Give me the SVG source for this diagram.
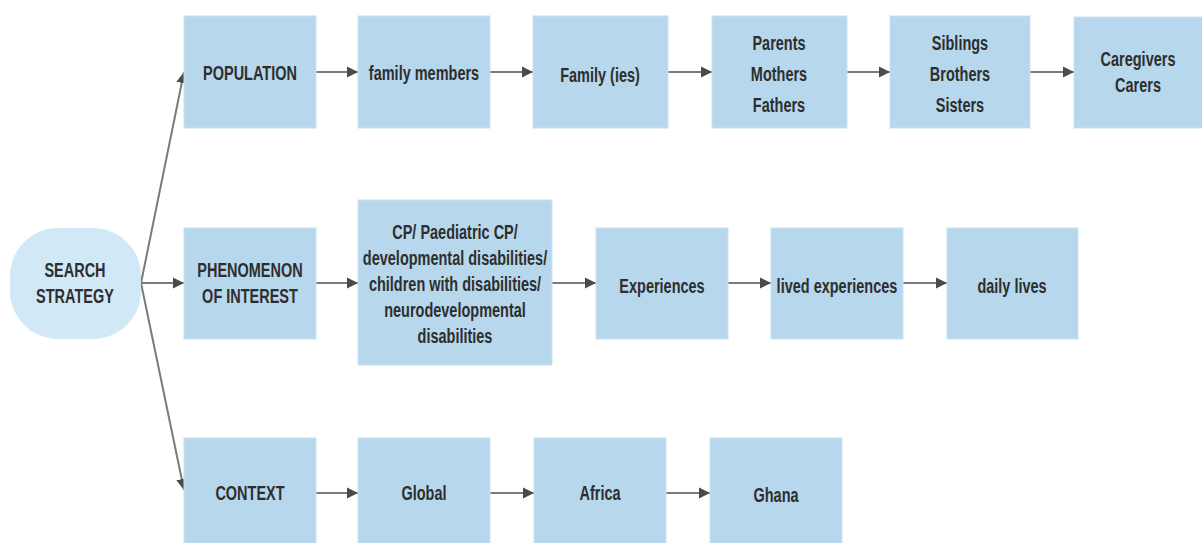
<svg xmlns="http://www.w3.org/2000/svg" width="1202" height="543" viewBox="0 0 1202 543">
<style>
.box{fill:#b6d7ec;stroke:#c9e2f1;stroke-width:1}
.pill{fill:#d1e8f6}
.t{font-family:"Liberation Sans","Arial",sans-serif;font-weight:bold;font-size:21px;fill:#2e2e2e;text-anchor:middle;dominant-baseline:central}
.c{stroke:#7a7a7a;stroke-width:2;fill:none;marker-end:url(#ah)}
</style>
<defs>
<marker id="ah" viewBox="0 0 10 10" refX="10" refY="5" markerWidth="5.5" markerHeight="6" orient="auto" markerUnits="strokeWidth">
<path d="M0,0 L10,5 L0,10 z" fill="#4a4a4a"/>
</marker>
</defs>
<rect width="1202" height="543" fill="#fff"/>
<g id="connectors">
<path class="c" d="M141,283 L184,72"/>
<path class="c" d="M141,283 L184,283"/>
<path class="c" d="M141,283 L184,490"/>
<path class="c" d="M316,72 L358,72"/>
<path class="c" d="M490,72 L533,72"/>
<path class="c" d="M668,72 L712,72"/>
<path class="c" d="M847,72 L890,72"/>
<path class="c" d="M1030,72 L1074,72"/>
<path class="c" d="M316,283 L358,283"/>
<path class="c" d="M552,283 L596,283"/>
<path class="c" d="M728,283 L771,283"/>
<path class="c" d="M903,283 L947,283"/>
<path class="c" d="M316,493 L358,493"/>
<path class="c" d="M490,493 L534,493"/>
<path class="c" d="M666,493 L710,493"/>
</g>
<g id="search"><rect class="pill" x="10" y="228" width="131" height="111" rx="48" ry="48"/><text class="t" transform="translate(75,270) scale(0.69,1)"><tspan x="0" y="0">SEARCH</tspan><tspan x="0" y="26">STRATEGY</tspan></text></g>
<g id="population"><rect class="box" x="184" y="16" width="132" height="112"/><text class="t" transform="translate(250,73) scale(0.69,1)">POPULATION</text></g>
<g id="family-members"><rect class="box" x="358" y="16" width="132" height="112"/><text class="t" transform="translate(424,73) scale(0.69,1)">family members</text></g>
<g id="families"><rect class="box" x="533" y="16" width="135" height="112"/><text class="t" transform="translate(600,75) scale(0.69,1)">Family (ies)</text></g>
<g id="parents"><rect class="box" x="712" y="16" width="135" height="112"/><text class="t" transform="translate(779,43) scale(0.69,1)"><tspan x="0" y="0">Parents</tspan><tspan x="0" y="31">Mothers</tspan><tspan x="0" y="62">Fathers</tspan></text></g>
<g id="siblings"><rect class="box" x="890" y="16" width="140" height="112"/><text class="t" transform="translate(960,43) scale(0.69,1)"><tspan x="0" y="0">Siblings</tspan><tspan x="0" y="31">Brothers</tspan><tspan x="0" y="62">Sisters</tspan></text></g>
<g id="caregivers"><rect class="box" x="1074" y="17" width="130" height="111"/><text class="t" transform="translate(1138,59) scale(0.69,1)"><tspan x="0" y="0">Caregivers</tspan><tspan x="0" y="26">Carers</tspan></text></g>
<g id="phenomenon"><rect class="box" x="184" y="228" width="132" height="111"/><text class="t" transform="translate(250,270) scale(0.69,1)"><tspan x="0" y="0">PHENOMENON</tspan><tspan x="0" y="26">OF INTEREST</tspan></text></g>
<g id="cp"><rect class="box" x="358" y="200" width="194" height="165"/><text class="t" transform="translate(455,232) scale(0.69,1)"><tspan x="0" y="0">CP/ Paediatric CP/</tspan><tspan x="0" y="26">developmental disabilities/</tspan><tspan x="0" y="52">children with disabilities/</tspan><tspan x="0" y="78">neurodevelopmental</tspan><tspan x="0" y="104">disabilities</tspan></text></g>
<g id="experiences"><rect class="box" x="596" y="228" width="132" height="111"/><text class="t" transform="translate(662,286) scale(0.69,1)">Experiences</text></g>
<g id="lived"><rect class="box" x="771" y="228" width="132" height="111"/><text class="t" transform="translate(837,286) scale(0.69,1)">lived experiences</text></g>
<g id="daily"><rect class="box" x="947" y="228" width="131" height="111"/><text class="t" transform="translate(1012,286) scale(0.69,1)">daily lives</text></g>
<g id="context"><rect class="box" x="184" y="438" width="132" height="110"/><text class="t" transform="translate(250,493) scale(0.69,1)">CONTEXT</text></g>
<g id="global"><rect class="box" x="358" y="438" width="132" height="110"/><text class="t" transform="translate(424,493) scale(0.69,1)">Global</text></g>
<g id="africa"><rect class="box" x="534" y="438" width="132" height="110"/><text class="t" transform="translate(600,493) scale(0.69,1)">Africa</text></g>
<g id="ghana"><rect class="box" x="710" y="438" width="132" height="110"/><text class="t" transform="translate(776,495) scale(0.69,1)">Ghana</text></g>
</svg>
